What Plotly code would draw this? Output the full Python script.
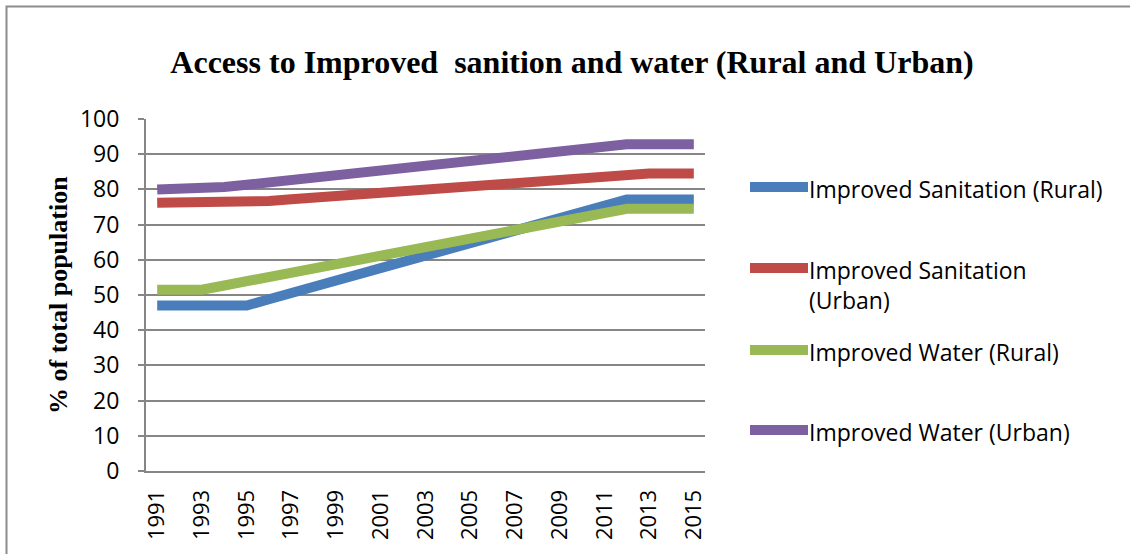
import plotly.graph_objects as go

years = list(range(1991, 2016))
tick_years = [1991, 1993, 1995, 1997, 1999, 2001, 2003, 2005, 2007, 2009, 2011, 2013, 2015]

sanitation_rural = [47.0, 47.0, 47.0, 47.0, 47.0, 48.8, 50.5, 52.3, 54.1, 55.8, 57.6, 59.4, 61.2,
                    63.0, 64.8, 66.5, 68.3, 70.0, 71.7, 73.5, 75.3, 77.1, 77.1, 77.1, 77.1]
sanitation_urban = [76.2, 76.2, 76.2, 76.2, 76.2, 76.7, 77.2, 77.7, 78.2, 78.7, 79.1, 79.6, 80.1,
                    80.6, 81.1, 81.6, 82.1, 82.6, 83.0, 83.5, 84.0, 84.5, 84.5, 84.5, 84.5]
water_rural = [51.5, 51.5, 51.5, 52.7, 53.9, 55.1, 56.4, 57.6, 58.8, 60.0, 61.3, 62.5, 63.7,
               64.9, 66.1, 67.3, 68.5, 69.7, 70.9, 72.1, 73.3, 74.5, 74.5, 74.5, 74.5]
water_urban = [80.0, 80.0, 80.0, 80.7, 81.3, 82.0, 82.7, 83.4, 84.0, 84.7, 85.4, 86.1, 86.7,
               87.4, 88.1, 88.8, 89.4, 90.1, 90.8, 91.4, 92.1, 92.8, 92.8, 92.8, 92.8]

series_names = ["Improved Sanitation (Rural)", "Improved Sanitation<br>(Urban)",
                "Improved Water (Rural)", "Improved Water (Urban)"]
series_values = [sanitation_rural, sanitation_urban, water_rural, water_urban]
colors = ["#4a7ebb", "#be4b48", "#98b954", "#7d60a0"]

title_text = "Access to Improved\u00a0 sanition and water (Rural and Urban)"
y_title = "% of total population"

# plot area in pixels
W, H = 1130, 554
L, R, T, B = 146, 705, 119, 471

fig = go.Figure()
for name, vals, col in zip(series_names, series_values, colors):
    fig.add_trace(go.Scatter(x=years, y=vals, mode="lines", name=name,
                             line=dict(color=col, width=10), showlegend=False))

def px_x(p):
    return (p - L) / (R - L)

def px_y(p):
    return (B - p) / (B - T)

shapes = []
annotations = []
# chart border (top + left visible)
shapes.append(dict(type="rect", xref="paper", yref="paper",
                   x0=px_x(6.5), x1=px_x(1140), y0=px_y(6.5), y1=px_y(570),
                   line=dict(color="#8c8c8c", width=2), layer="below"))

# manual legend
legend_y = [187, 268, 350, 430]
for name, col, ly in zip(series_names, colors, legend_y):
    shapes.append(dict(type="line", xref="paper", yref="paper",
                       x0=px_x(750), x1=px_x(808), y0=px_y(ly), y1=px_y(ly),
                       line=dict(color=col, width=10)))
    annotations.append(dict(xref="paper", yref="paper", x=px_x(807), y=px_y(ly - 16),
                            xanchor="left", yanchor="top", text=name, showarrow=False,
                            align="left",
                            font=dict(family="Open Sans", size=23, color="#000")))

# y axis title as annotation for exact placement
annotations.append(dict(xref="paper", yref="paper", x=px_x(58), y=px_y(295),
                        xanchor="center", yanchor="middle", textangle=-90, showarrow=False,
                        text="<b>" + y_title + "</b>",
                        font=dict(family="Liberation Serif", size=26, color="#000")))

fig.update_layout(
    width=W, height=H,
    margin=dict(l=L, r=W - R, t=T, b=H - B, pad=0),
    paper_bgcolor="white", plot_bgcolor="white",
    title=dict(text="<b>" + title_text + "</b>", x=(172 + 972) / 2 / W, xanchor="center",
               y=1 - 62 / H, yanchor="middle",
               font=dict(family="Liberation Serif", size=32, color="#000")),
    xaxis=dict(range=[1990.5, 2015.5], tickmode="array", tickvals=tick_years,
               ticktext=[str(t) for t in tick_years], tickangle=-90,
               showgrid=False, zeroline=False, showline=True, linecolor="#868686", linewidth=2,
               ticks="", ticklabelstandoff=8,
               tickfont=dict(family="Open Sans", size=22, color="#000")),
    yaxis=dict(range=[0, 100], tickmode="linear", tick0=0, dtick=10,
               showgrid=True, gridcolor="#868686", gridwidth=1.5, zeroline=False,
               showline=True, linecolor="#868686", linewidth=2,
               ticks="outside", ticklen=6, tickcolor="#868686", tickwidth=1.5,
               ticklabelstandoff=14,
               tickfont=dict(family="Open Sans", size=23, color="#000")),
    shapes=shapes, annotations=annotations,
)

fig.write_html("out.html")
